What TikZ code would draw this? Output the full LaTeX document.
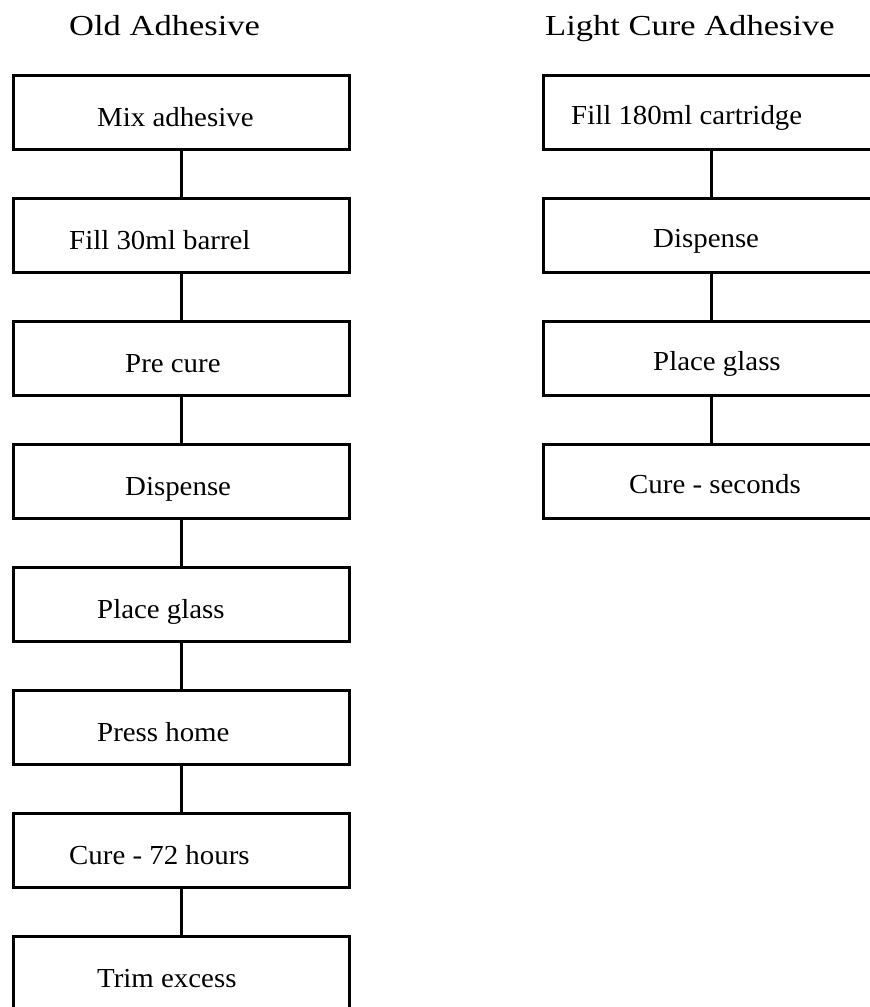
\documentclass[tikz,border=0pt]{standalone}
\usepackage{fontspec}
\setmainfont{Liberation Serif}
\usepackage{graphicx}
\newcommand\boxtxt[1]{\fontsize{27.5}{30}\selectfont\scalebox{1.05}[1]{#1}}
\newcommand\ttltxt[1]{\fontsize{29}{32}\selectfont\scalebox{1.19}[1]{#1}}
\begin{document}
\begin{tikzpicture}[x=1pt,y=-1pt,
  stepbox/.style={draw=black,line width=3pt,minimum width=336pt,minimum height=74pt,inner sep=0pt,outer sep=0pt,anchor=north west},
  lbl/.style={anchor=base west,inner sep=0pt},
  conn/.style={draw=black,line width=3pt}]
\useasboundingbox (0,0) rectangle (870,1007);
\clip (0,0) rectangle (870,1007);
\fill[white] (0,0) rectangle (870,1007);
% titles
\node[lbl] (t1) at (69,35) {\ttltxt{Old Adhesive}};
\node[lbl] (t2) at (545,35) {\ttltxt{Light Cure Adhesive}};
% left column
\foreach \i/\y in {1/75,2/198,3/321,4/444,5/567,6/690,7/813,8/936}{
  \node[stepbox] (a\i) at (13,\y) {};
}
\node[lbl] (la1) at (97,126) {\boxtxt{Mix adhesive}};
\node[lbl] (la2) at (69,249) {\boxtxt{Fill 30ml barrel}};
\node[lbl] (la3) at (125,372) {\boxtxt{Pre cure}};
\node[lbl] (la4) at (125,495) {\boxtxt{Dispense}};
\node[lbl] (la5) at (97,618) {\boxtxt{Place glass}};
\node[lbl] (la6) at (97,741) {\boxtxt{Press home}};
\node[lbl] (la7) at (69,864) {\boxtxt{Cure - 72 hours}};
\node[lbl] (la8) at (97,987) {\boxtxt{Trim excess}};
\foreach \i/\j in {1/2,2/3,3/4,4/5,5/6,6/7,7/8}{
  \draw[conn] (a\i.south) -- (a\j.north);
}
% right column
\foreach \i/\y in {1/75,2/198,3/321,4/444}{
  \node[stepbox] (b\i) at (543,\y) {};
}
\node[lbl] (lb1) at (571,124) {\boxtxt{Fill 180ml cartridge}};
\node[lbl] (lb2) at (653,247) {\boxtxt{Dispense}};
\node[lbl] (lb3) at (653,370) {\boxtxt{Place glass}};
\node[lbl] (lb4) at (629,493) {\boxtxt{Cure - seconds}};
\foreach \i/\j in {1/2,2/3,3/4}{
  \draw[conn] (b\i.south) -- (b\j.north);
}
\end{tikzpicture}
\end{document}
